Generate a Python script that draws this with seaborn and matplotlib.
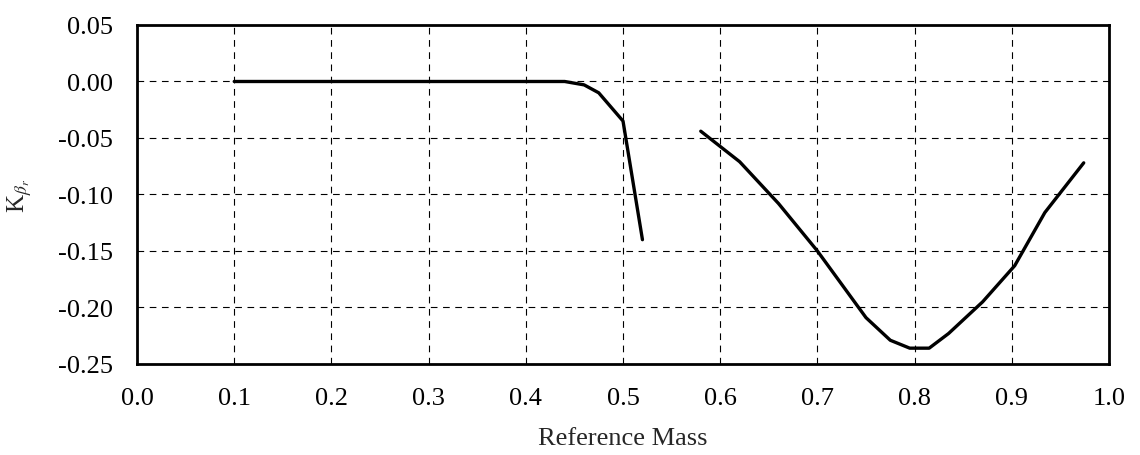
import matplotlib
matplotlib.use("Agg")
import matplotlib.pyplot as plt
import seaborn as sns
import pandas as pd

# Segment 1 (low reference mass branch)
mass_1 = [0.10, 0.20, 0.30, 0.40, 0.44, 0.46, 0.475, 0.50, 0.52]
k_1 = [0.000, 0.000, 0.000, 0.000, 0.000, -0.003, -0.010, -0.035, -0.140]

# Segment 2 (high reference mass branch)
mass_2 = [0.58, 0.62, 0.66, 0.70, 0.75, 0.775, 0.795, 0.815, 0.835, 0.87, 0.903, 0.934, 0.974]
k_2 = [-0.044, -0.071, -0.108, -0.150, -0.209, -0.229, -0.236, -0.236, -0.223, -0.195, -0.163, -0.116, -0.072]

x_ticks = [0.0, 0.1, 0.2, 0.3, 0.4, 0.5, 0.6, 0.7, 0.8, 0.9, 1.0]
y_ticks = [0.05, 0.00, -0.05, -0.10, -0.15, -0.20, -0.25]

df = pd.concat([
    pd.DataFrame({"mass": mass_1, "k": k_1, "seg": "a"}),
    pd.DataFrame({"mass": mass_2, "k": k_2, "seg": "b"}),
])

sns.set_style("white")
plt.rcParams["font.family"] = ["Liberation Serif", "DejaVu Serif"]
plt.rcParams["mathtext.fontset"] = "stix"

fig = plt.figure(figsize=(11.4, 4.56), dpi=100)
ax = fig.add_axes([0.1202, 0.1996, 0.9728 - 0.1202, 0.943 - 0.1996])

sns.lineplot(data=df, x="mass", y="k", units="seg", estimator=None,
             color="black", linewidth=2.4, sort=False, ax=ax)

ax.set_xlim(0.0, 1.0)
ax.set_ylim(-0.25, 0.05)
ax.set_xticks(x_ticks)
ax.set_yticks(y_ticks)
ax.set_xticklabels([f"{v:.1f}" for v in x_ticks])
ax.set_yticklabels([f"{v:.2f}" for v in y_ticks])

ax.grid(True, color="black", linestyle=(0, (6, 5)), linewidth=0.8)
ax.set_axisbelow(True)

for s in ax.spines.values():
    s.set_visible(True)
    s.set_color("black")
    s.set_linewidth(2.0)

ax.tick_params(axis="x", which="major", direction="inout", length=9, width=2,
               labelsize=19, colors="black", pad=12)
ax.tick_params(axis="y", which="major", direction="inout", length=9, width=2,
               labelsize=19, colors="black", pad=13)

ax.set_xlabel("Reference Mass", fontsize=19, labelpad=13)
ax.set_ylabel(r"K$_{\beta_r}$", fontsize=18)
ax.yaxis.set_label_coords(-0.106, 0.5)

fig.savefig("out.png", dpi=100, facecolor="white")
